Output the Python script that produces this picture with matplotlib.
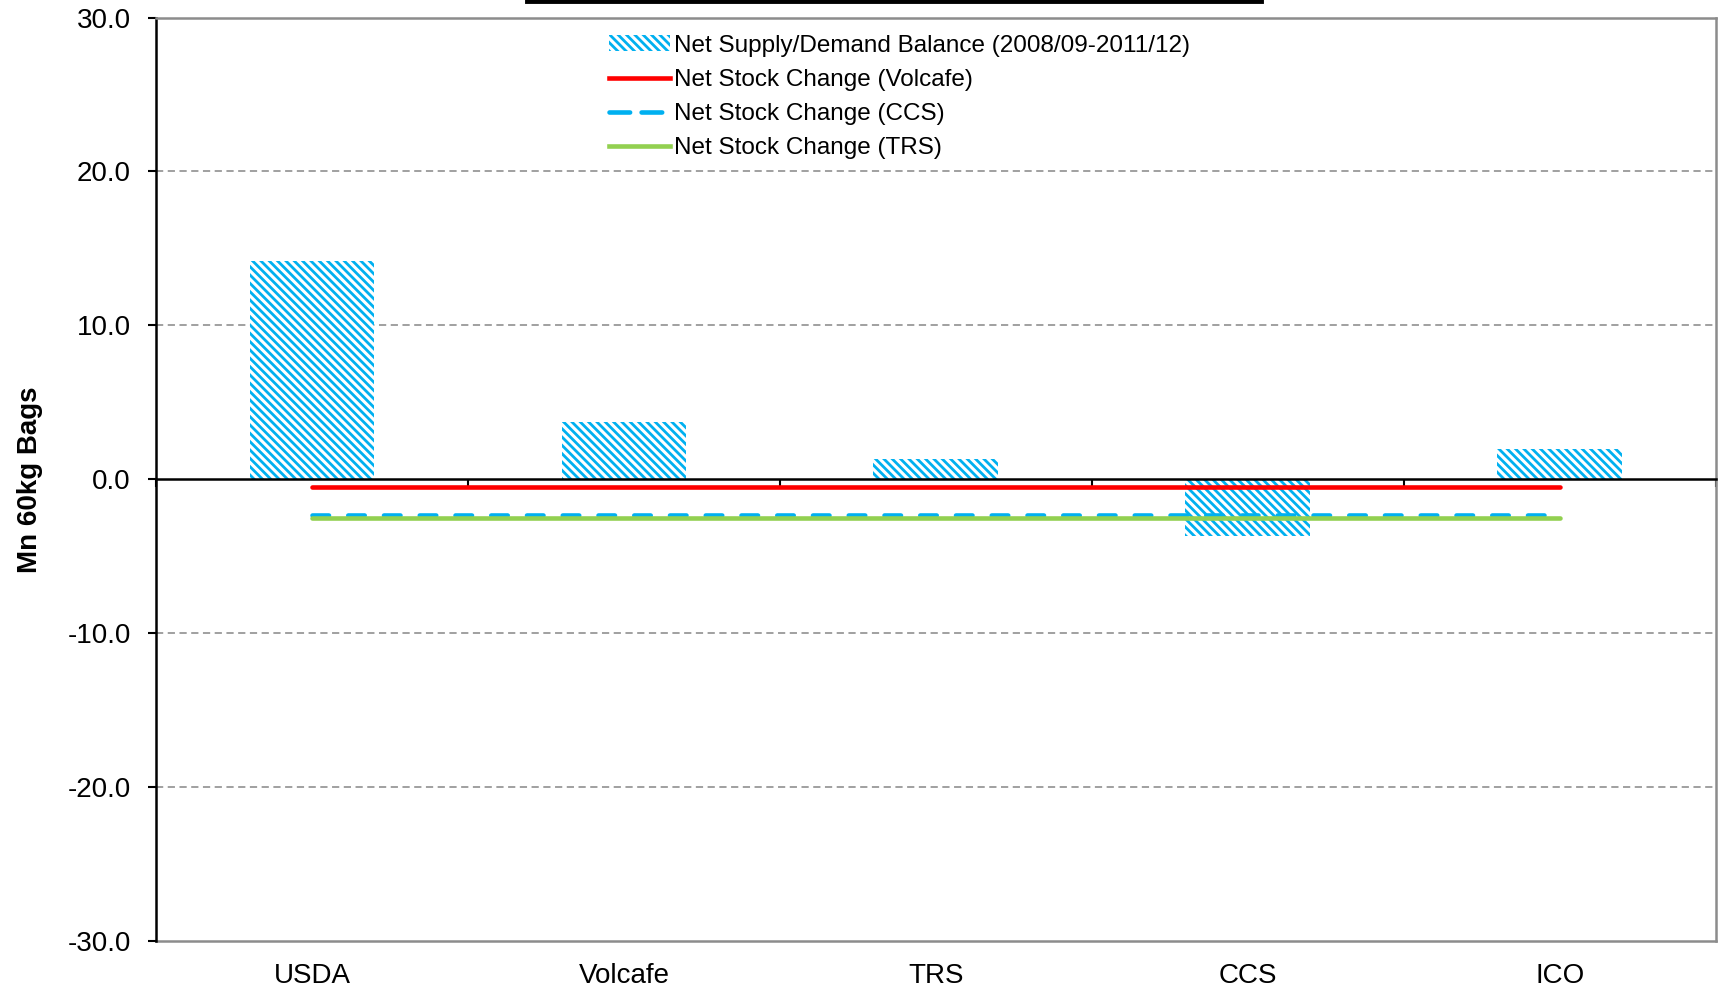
"""
Bilan offre/demande net vs variation de stocks, par source.
Sortie : out.png
"""
import numpy as np
import matplotlib
matplotlib.use("Agg")
import matplotlib.pyplot as plt
from matplotlib.patches import Patch
from matplotlib.lines import Line2D
from matplotlib.ticker import FormatStrFormatter

# Donnees
sources = ["USDA", "Volcafe", "TRS", "CCS", "ICO"]
net_balance = [14.2, 3.7, 1.3, -3.7, 1.95]
stock_volcafe = [-0.5, -0.5, -0.5, -0.5, -0.5]
stock_ccs = [-2.3, -2.3, -2.3, -2.3, -2.3]
stock_trs = [-2.5, -2.5, -2.5, -2.5, -2.5]
y_ticks = [-30, -20, -10, 0, 10, 20, 30]

BLUE = "#00B0F0"
RED = "#FF0000"
GREEN = "#92D050"
GRID = "#999999"

plt.rcParams["font.family"] = ["Liberation Sans", "DejaVu Sans"]
plt.rcParams["hatch.color"] = BLUE
plt.rcParams["hatch.linewidth"] = 2.0
plt.rcParams["axes.unicode_minus"] = False

fig = plt.figure(figsize=(17.21, 9.90), dpi=100)
ax = fig.add_axes([0.0906, 0.0495, 0.9064, 0.9328])

x = np.arange(len(sources)) + 0.5
HATCH = "\\\\\\\\"

ax.bar(x, net_balance, width=0.4, facecolor="white", edgecolor=BLUE,
       linewidth=0, hatch=HATCH, zorder=2)
ax.plot(x, stock_volcafe, color=RED, lw=3.3, solid_capstyle="round", zorder=4)
ax.plot(x, stock_ccs, color=BLUE, lw=3.3, dashes=(3.6, 4.2),
        dash_capstyle="round", zorder=3)
ax.plot(x, stock_trs, color=GREEN, lw=3.3, solid_capstyle="round", zorder=3.5)

ax.set_xlim(0, len(sources))
ax.set_ylim(-30, 30)
ax.set_yticks(y_ticks)
ax.yaxis.set_major_formatter(FormatStrFormatter("%.1f"))
ax.tick_params(axis="y", labelsize=20, length=6, width=1.5, pad=12,
               direction="out")

# grille pointillee grise (sauf 0 et bornes)
for v in y_ticks[1:-1]:
    if v != 0:
        ax.axhline(v, color=GRID, lw=1.3, ls=(0, (4, 2.5)), zorder=1)

# axe des x sur la ligne du zero
ax.spines["bottom"].set_position(("data", 0))
ax.spines["bottom"].set_color("black")
ax.spines["bottom"].set_linewidth(1.8)
ax.spines["bottom"].set_zorder(2.5)
ax.set_xticks(np.arange(len(sources) + 1))
ax.tick_params(axis="x", length=6, width=1.5, direction="out", labelbottom=False)

ax.spines["left"].set_linewidth(1.8)
for s in ["top", "right"]:
    ax.spines[s].set_color("#8c8c8c")
    ax.spines[s].set_linewidth(1.8)

# libelles des categories en bas du cadre
sec = ax.secondary_xaxis(0.0)
sec.set_xticks(x)
sec.set_xticklabels(sources)
sec.tick_params(length=0, labelsize=20, pad=16)
sec.spines["bottom"].set_color("#8c8c8c")
sec.spines["bottom"].set_linewidth(1.8)

ax.set_ylabel("Mn 60kg Bags", fontsize=20, fontweight="bold", labelpad=18)

handles = [
    Patch(facecolor="white", edgecolor=BLUE, linewidth=0, hatch=HATCH),
    Line2D([], [], color=RED, lw=3.3),
    Line2D([], [], color=BLUE, lw=3.3, dashes=(4.5, 2.5), dash_capstyle="round"),
    Line2D([], [], color=GREEN, lw=3.3),
]
labels = [
    "Net Supply/Demand Balance (2008/09-2011/12)",
    "Net Stock Change (Volcafe)",
    "Net Stock Change (CCS)",
    "Net Stock Change (TRS)",
]
ax.legend(handles, labels, loc="upper left", bbox_to_anchor=(0.354, 0.965),
          bbox_transform=fig.transFigure, frameon=False, fontsize=17.5,
          handlelength=2.5, handleheight=0.6, handletextpad=0.15,
          labelspacing=0.5, borderpad=0, borderaxespad=0)

# bord du cadre de titre coupe en haut
fig.add_artist(Line2D([0.306, 0.733], [0.9985, 0.9985], color="black", lw=3.5,
                      transform=fig.transFigure))

fig.savefig("out.png", dpi=100)
